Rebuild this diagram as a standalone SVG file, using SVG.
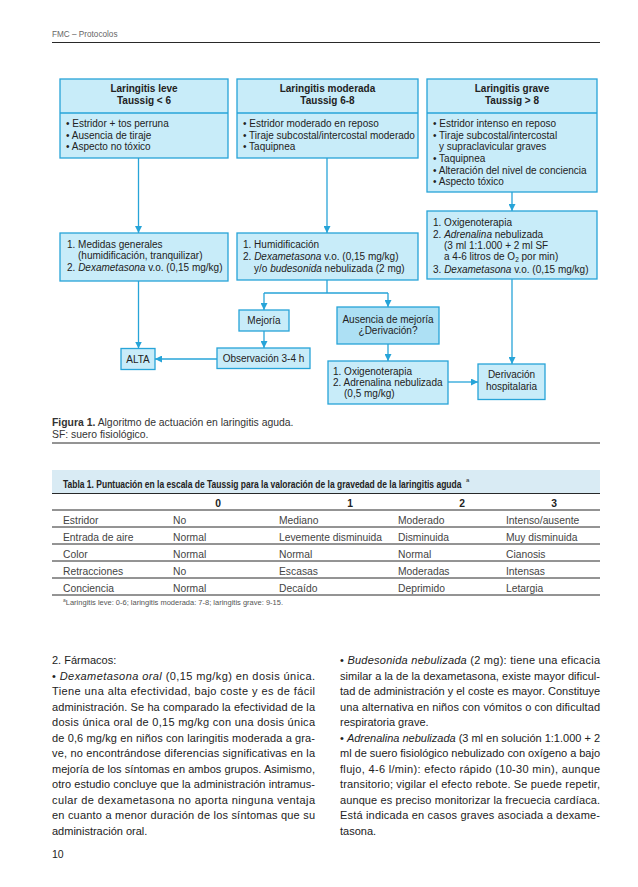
<svg xmlns="http://www.w3.org/2000/svg" width="638" height="887" viewBox="0 0 638 887">
<defs>
<marker id="ah" markerUnits="userSpaceOnUse" markerWidth="7" markerHeight="7" refX="7" refY="3.5" orient="auto">
<path d="M0,0 L7,3.5 L0,7 z" fill="#27a4d8"/>
</marker>
<style>
.bx{fill:#c8ecf9;stroke:#27a4d8;stroke-width:1.3}
.bx2{fill:#ade0f4;stroke:#27a4d8;stroke-width:1.3}
.dv{stroke:#27a4d8;stroke-width:1.3}
.cn{fill:none;stroke:#27a4d8;stroke-width:1.3}
.f{font-family:"Liberation Sans",Arial,sans-serif;font-size:10px;fill:#222}
.b{font-weight:bold}
.i{font-style:italic}
.m{text-anchor:middle}
.tt{font-family:"Liberation Sans",Arial,sans-serif;font-size:10.3px;fill:#444}
.tr{stroke:#111;stroke-width:0.9}
.bd{font-family:"Liberation Sans",Arial,sans-serif;font-size:11px;fill:#222}
</style>
</defs>
<rect width="638" height="887" fill="#fff"/>

<g id="page-header">
<text x="52" y="37" style="font-family:'Liberation Sans',Arial,sans-serif;font-size:8.2px;fill:#666">FMC – Protocolos</text>
<line x1="52" y1="42.5" x2="600" y2="42.5" stroke="#111" stroke-width="0.9"/>
</g>

<g id="connectors">
<line class="cn" x1="138.5" y1="158" x2="138.5" y2="233" marker-end="url(#ah)"/>
<line class="cn" x1="138.5" y1="281" x2="138.5" y2="348.5" marker-end="url(#ah)"/>
<line class="cn" x1="327" y1="158" x2="327" y2="233" marker-end="url(#ah)"/>
<path class="cn" d="M327,280 V293 M264,293 H388"/>
<line class="cn" x1="264" y1="293" x2="264" y2="310" marker-end="url(#ah)"/>
<line class="cn" x1="388" y1="293" x2="388" y2="307" marker-end="url(#ah)"/>
<line class="cn" x1="264" y1="331" x2="264" y2="348" marker-end="url(#ah)"/>
<line class="cn" x1="217" y1="359" x2="155" y2="359" marker-end="url(#ah)"/>
<line class="cn" x1="388" y1="344" x2="388" y2="361" marker-end="url(#ah)"/>
<line class="cn" x1="448" y1="382" x2="478" y2="382" marker-end="url(#ah)"/>
<line class="cn" x1="512" y1="192" x2="512" y2="211" marker-end="url(#ah)"/>
<line class="cn" x1="512" y1="279" x2="512" y2="364" marker-end="url(#ah)"/>
</g>

<g id="leve">
<rect class="bx" x="60" y="79" width="168" height="79"/>
<line class="dv" x1="60" y1="113" x2="228" y2="113"/>
<text class="f b m" x="144" y="92">Laringitis leve</text>
<text class="f b m" x="144" y="103.5">Taussig &lt; 6</text>
<text class="f" x="66" y="127">• Estridor + tos perruna</text>
<text class="f" x="66" y="138.7">• Ausencia de tiraje</text>
<text class="f" x="66" y="150.3">• Aspecto no tóxico</text>
</g>

<g id="moderada">
<rect class="bx" x="237" y="79" width="181" height="79"/>
<line class="dv" x1="237" y1="113" x2="418" y2="113"/>
<text class="f b m" x="327.5" y="92">Laringitis moderada</text>
<text class="f b m" x="327.5" y="103.5">Taussig 6-8</text>
<text class="f" x="243" y="127">• Estridor moderado en reposo</text>
<text class="f" x="243" y="138.7">• Tiraje subcostal/intercostal moderado</text>
<text class="f" x="243" y="150.3">• Taquipnea</text>
</g>

<g id="grave">
<rect class="bx" x="427" y="79" width="170" height="113"/>
<line class="dv" x1="427" y1="113" x2="597" y2="113"/>
<text class="f b m" x="512" y="92">Laringitis grave</text>
<text class="f b m" x="512" y="103.5">Taussig &gt; 8</text>
<text class="f" x="433" y="127">• Estridor intenso en reposo</text>
<text class="f" x="433" y="138.7">• Tiraje subcostal/intercostal</text>
<text class="f" x="439" y="150.3">y supraclavicular graves</text>
<text class="f" x="433" y="162">• Taquipnea</text>
<text class="f" x="433" y="173.6">• Alteración del nivel de conciencia</text>
<text class="f" x="433" y="185.2">• Aspecto tóxico</text>
</g>

<g id="leve-tratamiento">
<rect class="bx" x="60" y="233" width="168" height="48"/>
<text class="f" x="67" y="247.5">1. Medidas generales</text>
<text class="f" x="78" y="259">(humidificación, tranquilizar)</text>
<text class="f" x="67" y="270.5">2. <tspan class="i">Dexametasona</tspan> v.o. (0,15 mg/kg)</text>
</g>

<g id="moderada-tratamiento">
<rect class="bx" x="237" y="233" width="181" height="47"/>
<text class="f" x="243" y="247.5">1. Humidificación</text>
<text class="f" x="243" y="259.5">2. <tspan class="i">Dexametasona</tspan> v.o. (0,15 mg/kg)</text>
<text class="f" x="254" y="271.5">y/o <tspan class="i">budesonida</tspan> nebulizada (2 mg)</text>
</g>

<g id="grave-tratamiento">
<rect class="bx" x="427" y="211" width="170" height="68"/>
<text class="f" x="433" y="226">1. Oxigenoterapia</text>
<text class="f" x="433" y="237.5">2. <tspan class="i">Adrenalina</tspan> nebulizada</text>
<text class="f" x="444" y="249">(3 ml 1:1.000 + 2 ml SF</text>
<text class="f" x="444" y="260">a 4-6 litros de O<tspan font-size="6.5" dy="2">2</tspan><tspan dy="-2"> por min)</tspan></text>
<text class="f" x="433" y="272.5">3. <tspan class="i">Dexametasona</tspan> v.o. (0,15 mg/kg)</text>
</g>

<g id="mejoria">
<rect class="bx" x="239" y="310" width="50" height="21"/>
<text class="f m" x="264" y="323.5">Mejoría</text>
</g>

<g id="ausencia">
<rect class="bx2" x="337" y="307" width="102" height="37"/>
<text class="f m" x="388" y="322.5">Ausencia de mejoría</text>
<text class="f m" x="388" y="333.5">¿Derivación?</text>
</g>

<g id="observacion">
<rect class="bx" x="217" y="348" width="93" height="20.5"/>
<text class="f m" x="263.5" y="362">Observación 3-4 h</text>
</g>

<g id="alta">
<rect class="bx" x="121" y="348.5" width="34" height="21"/>
<text class="f m" x="138" y="363">ALTA</text>
</g>

<g id="oxigenoterapia">
<rect class="bx" x="328" y="361" width="120" height="43"/>
<text class="f" x="333" y="374.5">1. Oxigenoterapia</text>
<text class="f" x="333" y="386">2. Adrenalina nebulizada</text>
<text class="f" x="344" y="397">(0,5 mg/kg)</text>
</g>

<g id="derivacion">
<rect class="bx" x="478" y="364" width="67" height="35.5"/>
<text class="f m" x="511.5" y="378">Derivación</text>
<text class="f m" x="511.5" y="389.5">hospitalaria</text>
</g>

<g id="caption">
<text x="52" y="426" style="font-family:'Liberation Sans',Arial,sans-serif;font-size:10.4px;fill:#333"><tspan font-weight="bold">Figura 1.</tspan> Algoritmo de actuación en laringitis aguda.</text>
<text x="52" y="437.5" style="font-family:'Liberation Sans',Arial,sans-serif;font-size:10.4px;fill:#333">SF: suero fisiológico.</text>
<line x1="52" y1="443" x2="600" y2="443" stroke="#111" stroke-width="0.9"/>
</g>

<g id="tabla">
<rect x="52" y="470" width="548" height="23.5" fill="#d9ebf4"/>
<text transform="translate(63,487.5) scale(0.816,1)" x="0" y="0" style="font-family:'Liberation Sans',Arial,sans-serif;font-size:10.4px;font-weight:bold;fill:#222">Tabla 1. Puntuación en la escala de Taussig para la valoración de la gravedad de la laringitis aguda</text>
<text x="466" y="482" style="font-family:'Liberation Sans',Arial,sans-serif;font-size:6px;fill:#222">a</text>
<line class="tr" x1="52" y1="493.5" x2="600" y2="493.5" stroke-width="1.2"/>
<g style="font-family:'Liberation Sans',Arial,sans-serif;font-size:10.3px;font-weight:bold;fill:#222;text-anchor:middle">
<text x="218" y="506.5">0</text>
<text x="350" y="506.5">1</text>
<text x="462" y="506.5">2</text>
<text x="554" y="506.5">3</text>
</g>
<line class="tr" x1="52" y1="510" x2="600" y2="510"/>
<line class="tr" x1="52" y1="527" x2="600" y2="527"/>
<line class="tr" x1="52" y1="544" x2="600" y2="544"/>
<line class="tr" x1="52" y1="561" x2="600" y2="561"/>
<line class="tr" x1="52" y1="578" x2="600" y2="578"/>
<line class="tr" x1="52" y1="595" x2="600" y2="595"/>
<text class="tt" x="63" y="523.5">Estridor</text>
<text class="tt" x="173" y="523.5">No</text>
<text class="tt" x="279" y="523.5">Mediano</text>
<text class="tt" x="398" y="523.5">Moderado</text>
<text class="tt" x="506" y="523.5">Intenso/ausente</text>
<text class="tt" x="63" y="540.5">Entrada de aire</text>
<text class="tt" x="173" y="540.5">Normal</text>
<text class="tt" x="279" y="540.5">Levemente disminuida</text>
<text class="tt" x="398" y="540.5">Disminuida</text>
<text class="tt" x="506" y="540.5">Muy disminuida</text>
<text class="tt" x="63" y="557.5">Color</text>
<text class="tt" x="173" y="557.5">Normal</text>
<text class="tt" x="279" y="557.5">Normal</text>
<text class="tt" x="398" y="557.5">Normal</text>
<text class="tt" x="506" y="557.5">Cianosis</text>
<text class="tt" x="63" y="574.5">Retracciones</text>
<text class="tt" x="173" y="574.5">No</text>
<text class="tt" x="279" y="574.5">Escasas</text>
<text class="tt" x="398" y="574.5">Moderadas</text>
<text class="tt" x="506" y="574.5">Intensas</text>
<text class="tt" x="63" y="591.5">Conciencia</text>
<text class="tt" x="173" y="591.5">Normal</text>
<text class="tt" x="279" y="591.5">Decaído</text>
<text class="tt" x="398" y="591.5">Deprimido</text>
<text class="tt" x="506" y="591.5">Letargia</text>
<text x="63" y="605" style="font-family:'Liberation Sans',Arial,sans-serif;font-size:7.5px;fill:#555"><tspan font-size="5" dy="-3">a</tspan><tspan dy="3">Laringitis leve: 0-6; laringitis moderada: 7-8; laringitis grave: 9-15.</tspan></text>
</g>

<g id="texto-izquierda" class="bd">
<text class="bd" x="52" y="664">2. Fármacos:</text>
<text class="bd" x="52" y="679.5" textLength="263" lengthAdjust="spacing">• <tspan class="i">Dexametasona oral</tspan> (0,15 mg/kg) en dosis única.</text>
<text class="bd" x="52" y="695" textLength="263" lengthAdjust="spacing">Tiene una alta efectividad, bajo coste y es de fácil</text>
<text class="bd" x="52" y="710.5" textLength="263" lengthAdjust="spacing">administración. Se ha comparado la efectividad de la</text>
<text class="bd" x="52" y="726" textLength="263" lengthAdjust="spacing">dosis única oral de 0,15 mg/kg con una dosis única</text>
<text class="bd" x="52" y="741.5" textLength="263" lengthAdjust="spacing">de 0,6 mg/kg en niños con laringitis moderada a gra-</text>
<text class="bd" x="52" y="757" textLength="263" lengthAdjust="spacing">ve, no encontrándose diferencias significativas en la</text>
<text class="bd" x="52" y="772.5" textLength="263" lengthAdjust="spacing">mejoría de los síntomas en ambos grupos. Asimismo,</text>
<text class="bd" x="52" y="788" textLength="263" lengthAdjust="spacing">otro estudio concluye que la administración intramus-</text>
<text class="bd" x="52" y="803.5" textLength="263" lengthAdjust="spacing">cular de dexametasona no aporta ninguna ventaja</text>
<text class="bd" x="52" y="819" textLength="263" lengthAdjust="spacing">en cuanto a menor duración de los síntomas que su</text>
<text class="bd" x="52" y="834.5">administración oral.</text>
</g>

<g id="texto-derecha">
<text class="bd" x="340" y="664" textLength="260" lengthAdjust="spacing">• <tspan class="i">Budesonida nebulizada</tspan> (2 mg): tiene una eficacia</text>
<text class="bd" x="340" y="679.5" textLength="260" lengthAdjust="spacing">similar a la de la dexametasona, existe mayor dificul-</text>
<text class="bd" x="340" y="695" textLength="260" lengthAdjust="spacing">tad de administración y el coste es mayor. Constituye</text>
<text class="bd" x="340" y="710.5" textLength="260" lengthAdjust="spacing">una alternativa en niños con vómitos o con dificultad</text>
<text class="bd" x="340" y="726">respiratoria grave.</text>
<text class="bd" x="340" y="741.5" textLength="260" lengthAdjust="spacing">• <tspan class="i">Adrenalina nebulizada</tspan> (3 ml en solución 1:1.000 + 2</text>
<text class="bd" x="340" y="757" textLength="260" lengthAdjust="spacing">ml de suero fisiológico nebulizado con oxígeno a bajo</text>
<text class="bd" x="340" y="772.5" textLength="260" lengthAdjust="spacing">flujo, 4-6 l/min): efecto rápido (10-30 min), aunque</text>
<text class="bd" x="340" y="788" textLength="260" lengthAdjust="spacing">transitorio; vigilar el efecto rebote. Se puede repetir,</text>
<text class="bd" x="340" y="803.5" textLength="260" lengthAdjust="spacing">aunque es preciso monitorizar la frecuecia cardíaca.</text>
<text class="bd" x="340" y="819" textLength="260" lengthAdjust="spacing">Está indicada en casos graves asociada a dexame-</text>
<text class="bd" x="340" y="834.5">tasona.</text>
</g>

<g id="pagina">
<text x="52" y="858" style="font-family:'Liberation Sans',Arial,sans-serif;font-size:10.5px;fill:#222">10</text>
</g>
</svg>
